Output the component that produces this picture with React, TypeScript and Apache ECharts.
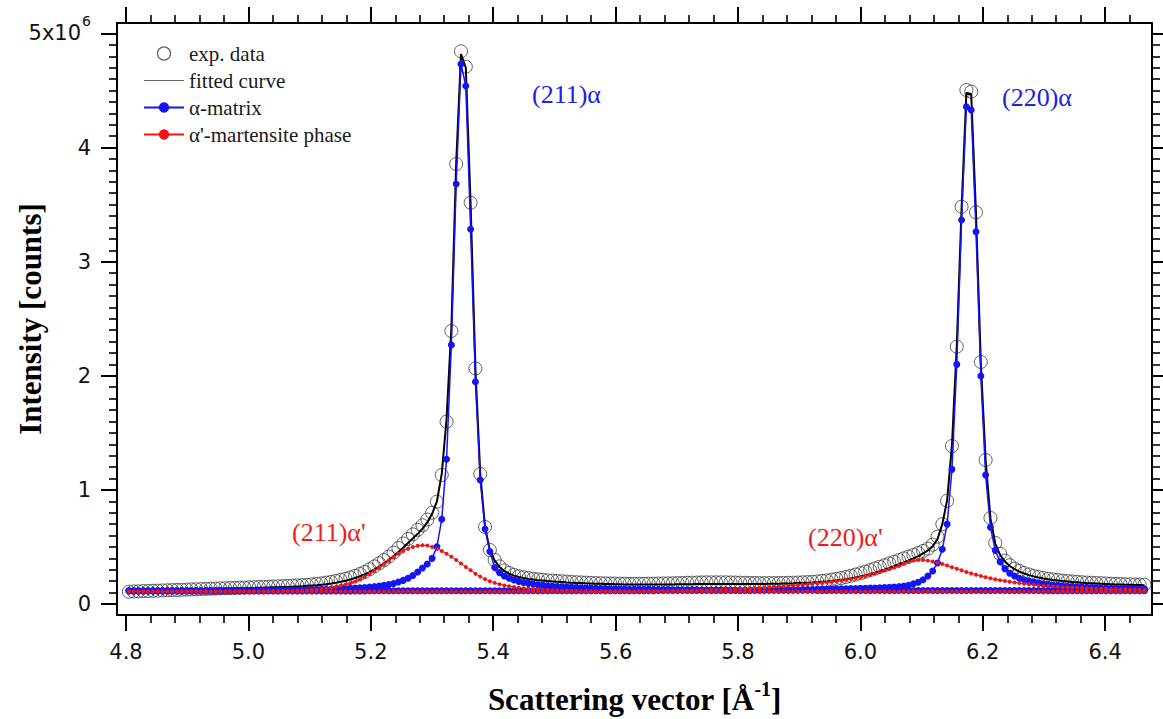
import React, { useEffect, useRef } from "react";
import * as echarts from "echarts";

// sampling grid of the measured points (scattering vector, 1/Å)
const Q0 = 4.8047;
const DQ = 0.007865;

// intensities in units of 10^6 counts, one value per grid point (212 points)
const EXP = [
  0.108,0.110,0.111,0.113,0.114,0.116,0.117,0.119,0.120,0.122,
  0.123,0.125,0.126,0.128,0.129,0.131,0.132,0.134,0.135,0.137,
  0.138,0.140,0.141,0.143,0.144,0.146,0.147,0.149,0.150,0.152,
  0.153,0.155,0.157,0.159,0.161,0.163,0.165,0.168,0.172,0.176,
  0.181,0.187,0.194,0.202,0.211,0.221,0.233,0.247,0.263,0.281,
  0.305,0.330,0.357,0.385,0.415,0.450,0.490,0.530,0.570,0.610,
  0.650,0.690,0.740,0.800,0.897,1.131,1.598,2.393,3.856,4.844,
  4.709,3.517,2.065,1.139,0.675,0.473,0.386,0.330,0.295,0.272,
  0.255,0.243,0.234,0.227,0.221,0.216,0.212,0.208,0.205,0.202,
  0.199,0.196,0.193,0.191,0.189,0.187,0.185,0.183,0.182,0.181,
  0.180,0.179,0.178,0.178,0.177,0.177,0.177,0.177,0.178,0.178,
  0.179,0.180,0.181,0.182,0.183,0.184,0.186,0.187,0.188,0.189,
  0.190,0.190,0.190,0.190,0.190,0.189,0.188,0.187,0.186,0.185,
  0.184,0.183,0.183,0.183,0.183,0.184,0.185,0.186,0.187,0.188,
  0.190,0.192,0.195,0.198,0.202,0.207,0.213,0.220,0.228,0.237,
  0.247,0.258,0.270,0.283,0.297,0.312,0.326,0.340,0.355,0.370,
  0.385,0.400,0.415,0.430,0.447,0.465,0.485,0.520,0.590,0.700,
  0.905,1.385,2.255,3.482,4.505,4.490,3.433,2.121,1.262,0.754,
  0.535,0.440,0.380,0.340,0.310,0.290,0.272,0.258,0.246,0.236,
  0.228,0.221,0.215,0.210,0.205,0.201,0.197,0.194,0.191,0.188,
  0.186,0.184,0.182,0.180,0.178,0.176,0.175,0.173,0.172,0.171,
  0.170,0.169,
];

const FIT = [
  0.115,0.116,0.117,0.118,0.119,0.120,0.121,0.122,0.123,0.124,
  0.125,0.126,0.127,0.128,0.129,0.130,0.131,0.132,0.133,0.134,
  0.135,0.136,0.137,0.138,0.139,0.140,0.141,0.142,0.143,0.145,
  0.146,0.147,0.149,0.150,0.152,0.154,0.156,0.159,0.162,0.165,
  0.169,0.174,0.180,0.187,0.195,0.204,0.215,0.228,0.243,0.260,
  0.280,0.303,0.328,0.355,0.385,0.418,0.455,0.495,0.535,0.575,
  0.615,0.660,0.715,0.790,0.900,1.140,1.620,2.420,3.860,4.820,
  4.700,3.500,2.060,1.140,0.675,0.470,0.380,0.325,0.290,0.266,
  0.249,0.237,0.228,0.220,0.214,0.209,0.205,0.201,0.198,0.195,
  0.192,0.189,0.187,0.185,0.183,0.181,0.180,0.178,0.177,0.176,
  0.175,0.174,0.173,0.172,0.172,0.171,0.171,0.171,0.171,0.171,
  0.171,0.171,0.172,0.172,0.173,0.173,0.174,0.174,0.175,0.175,
  0.176,0.176,0.176,0.176,0.176,0.176,0.176,0.176,0.176,0.176,
  0.176,0.176,0.176,0.177,0.177,0.178,0.179,0.180,0.181,0.183,
  0.184,0.186,0.188,0.191,0.194,0.197,0.201,0.206,0.211,0.217,
  0.224,0.232,0.241,0.251,0.262,0.274,0.287,0.301,0.316,0.332,
  0.348,0.365,0.382,0.400,0.420,0.443,0.470,0.505,0.570,0.700,
  0.910,1.390,2.260,3.470,4.480,4.470,3.420,2.110,1.260,0.750,
  0.530,0.430,0.372,0.333,0.305,0.284,0.267,0.253,0.242,0.232,
  0.224,0.217,0.211,0.206,0.201,0.197,0.193,0.190,0.187,0.184,
  0.182,0.180,0.178,0.176,0.174,0.172,0.171,0.169,0.168,0.167,
  0.166,0.165,
];

// alpha-matrix component, (211) reflection
const BLUE_211 = [
  0.115,0.115,0.115,0.115,0.115,0.115,0.115,0.115,0.115,0.115,
  0.115,0.115,0.116,0.116,0.116,0.116,0.117,0.117,0.117,0.117,
  0.118,0.118,0.118,0.118,0.119,0.119,0.119,0.120,0.120,0.120,
  0.121,0.121,0.122,0.122,0.123,0.123,0.124,0.125,0.126,0.127,
  0.128,0.129,0.130,0.131,0.133,0.135,0.137,0.139,0.142,0.145,
  0.148,0.152,0.157,0.163,0.170,0.180,0.192,0.207,0.225,0.250,
  0.280,0.315,0.350,0.400,0.502,0.742,1.268,2.270,3.681,4.733,
  4.540,3.284,1.948,1.087,0.657,0.460,0.320,0.275,0.245,0.225,
  0.210,0.198,0.189,0.181,0.175,0.169,0.164,0.160,0.156,0.153,
  0.150,0.148,0.146,0.144,0.142,0.140,0.139,0.138,0.136,0.135,
  0.134,0.133,0.132,0.131,0.130,0.130,0.129,0.128,0.128,0.127,
  0.127,0.126,0.126,0.125,0.125,0.125,0.124,0.124,0.124,0.123,
  0.123,0.123,0.122,0.122,0.122,0.122,0.121,0.121,0.121,0.121,
  0.120,0.120,0.120,0.120,0.120,0.120,0.120,0.120,0.120,0.120,
  0.120,0.120,0.120,0.119,0.119,0.119,0.119,0.119,0.119,0.119,
  0.119,0.119,0.119,0.119,0.119,0.119,0.119,0.119,0.119,0.119,
  0.118,0.118,0.118,0.118,0.118,0.118,0.118,0.118,0.118,0.118,
  0.118,0.118,0.118,0.118,0.118,0.118,0.118,0.118,0.118,0.118,
  0.118,0.118,0.118,0.118,0.118,0.118,0.118,0.118,0.118,0.118,
  0.117,0.117,0.117,0.117,0.117,0.117,0.117,0.117,0.117,0.117,
  0.117,0.117,0.117,0.117,0.117,0.117,0.117,0.117,0.117,0.117,
  0.117,0.117,
];

// alpha-matrix component, (220) reflection
const BLUE_220 = [
  0.115,0.115,0.115,0.115,0.115,0.115,0.115,0.115,0.115,0.115,
  0.115,0.115,0.115,0.115,0.115,0.115,0.115,0.115,0.115,0.115,
  0.115,0.115,0.115,0.115,0.115,0.115,0.115,0.115,0.115,0.115,
  0.115,0.115,0.115,0.115,0.115,0.115,0.115,0.115,0.115,0.115,
  0.115,0.115,0.115,0.115,0.115,0.115,0.115,0.115,0.115,0.115,
  0.116,0.116,0.116,0.116,0.116,0.116,0.116,0.116,0.116,0.116,
  0.116,0.116,0.116,0.116,0.116,0.116,0.116,0.116,0.116,0.116,
  0.116,0.116,0.116,0.116,0.116,0.116,0.116,0.116,0.116,0.116,
  0.116,0.116,0.116,0.116,0.116,0.116,0.116,0.116,0.116,0.116,
  0.117,0.117,0.117,0.117,0.117,0.117,0.117,0.117,0.117,0.117,
  0.117,0.117,0.117,0.117,0.117,0.117,0.117,0.117,0.117,0.117,
  0.118,0.118,0.118,0.118,0.118,0.118,0.118,0.118,0.118,0.118,
  0.119,0.119,0.119,0.119,0.119,0.119,0.119,0.119,0.119,0.119,
  0.120,0.121,0.121,0.122,0.122,0.123,0.123,0.124,0.125,0.125,
  0.126,0.127,0.127,0.128,0.129,0.130,0.131,0.132,0.133,0.134,
  0.135,0.136,0.137,0.138,0.140,0.141,0.143,0.145,0.147,0.149,
  0.152,0.157,0.165,0.178,0.190,0.213,0.245,0.290,0.360,0.480,
  0.700,1.180,2.100,3.365,4.358,4.330,3.263,1.998,1.130,0.672,
  0.470,0.370,0.310,0.270,0.245,0.226,0.212,0.201,0.192,0.184,
  0.178,0.172,0.167,0.163,0.159,0.156,0.153,0.150,0.148,0.146,
  0.144,0.142,0.141,0.139,0.138,0.137,0.136,0.135,0.134,0.133,
  0.132,0.131,
];

// alpha'-martensite component, (211) reflection
const RED_211 = [
  0.110,0.110,0.110,0.110,0.110,0.110,0.110,0.110,0.110,0.110,
  0.110,0.110,0.110,0.110,0.110,0.110,0.110,0.110,0.110,0.110,
  0.110,0.110,0.110,0.110,0.110,0.110,0.110,0.110,0.110,0.111,
  0.112,0.113,0.114,0.115,0.116,0.117,0.119,0.121,0.124,0.127,
  0.131,0.136,0.142,0.150,0.160,0.170,0.182,0.196,0.215,0.240,
  0.265,0.292,0.322,0.352,0.382,0.412,0.440,0.465,0.485,0.500,
  0.510,0.515,0.512,0.500,0.485,0.465,0.440,0.415,0.386,0.355,
  0.325,0.295,0.265,0.240,0.218,0.200,0.185,0.173,0.163,0.155,
  0.149,0.143,0.138,0.134,0.130,0.127,0.124,0.122,0.120,0.118,
  0.117,0.116,0.115,0.114,0.113,0.112,0.111,0.110,0.110,0.110,
  0.110,0.110,0.110,0.110,0.110,0.110,0.110,0.110,0.110,0.110,
  0.110,0.110,0.110,0.110,0.110,0.110,0.110,0.110,0.110,0.110,
  0.110,0.110,0.110,0.110,0.110,0.110,0.110,0.110,0.110,0.110,
  0.110,0.110,0.110,0.110,0.110,0.110,0.110,0.110,0.110,0.110,
  0.110,0.110,0.110,0.110,0.110,0.110,0.110,0.110,0.110,0.110,
  0.110,0.110,0.110,0.110,0.110,0.110,0.110,0.110,0.110,0.110,
  0.110,0.110,0.110,0.110,0.110,0.110,0.110,0.110,0.110,0.110,
  0.110,0.110,0.110,0.110,0.110,0.110,0.110,0.110,0.110,0.110,
  0.110,0.110,0.110,0.110,0.110,0.110,0.110,0.110,0.110,0.110,
  0.110,0.110,0.110,0.110,0.110,0.110,0.110,0.110,0.110,0.110,
  0.110,0.110,0.110,0.110,0.110,0.110,0.110,0.110,0.110,0.110,
  0.110,0.110,
];

// alpha'-martensite component, (220) reflection
const RED_220 = [
  0.110,0.110,0.110,0.110,0.110,0.110,0.110,0.110,0.110,0.110,
  0.110,0.110,0.110,0.110,0.110,0.110,0.110,0.110,0.110,0.110,
  0.110,0.110,0.110,0.110,0.110,0.110,0.110,0.110,0.110,0.110,
  0.110,0.110,0.110,0.110,0.110,0.110,0.110,0.110,0.110,0.110,
  0.110,0.110,0.110,0.110,0.110,0.110,0.110,0.110,0.110,0.110,
  0.110,0.110,0.110,0.110,0.110,0.110,0.110,0.110,0.110,0.110,
  0.110,0.110,0.110,0.110,0.110,0.110,0.110,0.110,0.110,0.110,
  0.110,0.110,0.110,0.110,0.110,0.110,0.110,0.110,0.110,0.110,
  0.110,0.110,0.110,0.110,0.110,0.110,0.110,0.110,0.110,0.110,
  0.110,0.110,0.110,0.110,0.110,0.110,0.110,0.110,0.110,0.110,
  0.110,0.110,0.110,0.110,0.110,0.110,0.111,0.111,0.112,0.112,
  0.113,0.113,0.114,0.114,0.115,0.116,0.117,0.118,0.119,0.120,
  0.121,0.122,0.123,0.125,0.126,0.128,0.130,0.132,0.134,0.136,
  0.138,0.141,0.144,0.147,0.150,0.153,0.156,0.159,0.163,0.166,
  0.170,0.173,0.177,0.181,0.185,0.190,0.195,0.200,0.206,0.212,
  0.219,0.227,0.236,0.246,0.257,0.268,0.280,0.293,0.306,0.320,
  0.334,0.352,0.368,0.380,0.386,0.385,0.380,0.372,0.362,0.350,
  0.337,0.323,0.309,0.295,0.281,0.268,0.256,0.245,0.235,0.226,
  0.217,0.209,0.202,0.195,0.189,0.183,0.178,0.173,0.168,0.164,
  0.160,0.157,0.154,0.151,0.148,0.146,0.144,0.142,0.140,0.138,
  0.136,0.134,0.133,0.131,0.130,0.129,0.128,0.127,0.126,0.125,
  0.124,0.123,
];

// axis tick values
const X_MAJOR = [4.8, 5.0, 5.2, 5.4, 5.6, 5.8, 6.0, 6.2, 6.4];
const Y_MAJOR = [0, 1, 2, 3, 4, 5];

const X_MIN = 4.7853;
const X_MAX = 6.4765;
const Y_MIN = -0.0964;
const Y_MAX = 5.092;

const toPairs = (arr: number[]) =>
  arr.map((v, i) => [Number((Q0 + i * DQ).toFixed(5)), v]);

const stepTicks = (from: number, to: number, step: number) => {
  const out: number[] = [];
  const n = Math.round((to - from) / step);
  for (let k = 0; k <= n; k++) out.push(Number((from + k * step).toFixed(4)));
  return out;
};

const X_MINOR = stepTicks(4.8, 6.44, 0.04);
const Y_MINOR = stepTicks(0, 5, 0.1);

const BLUE = "#1414f5";
const RED = "#f01414";
const SANS = "'DejaVu Sans', Verdana, sans-serif";
const SERIF = "'Liberation Serif', 'Times New Roman', serif";

export default function App() {
  const ref = useRef<HTMLDivElement>(null);

  useEffect(() => {
    if (!ref.current) return;
    const chart = echarts.init(ref.current, undefined, { renderer: "svg" });

    const gridRect = { left: 117, top: 23, width: 1035, height: 592 };
    const grids = [0, 1, 2, 3].map(() => ({ ...gridRect, containLabel: false, outerBoundsMode: "none" }));

    const axisLineOn = { show: true, onZero: false, lineStyle: { color: "#000", width: 2 } };
    const axisLineOff = { show: false, onZero: false };
    const majorTick = (vals: number[]) => ({
      show: true, inside: false, length: 16, customValues: vals,
      lineStyle: { color: "#000", width: 2 },
    });
    const minorTick = (vals: number[]) => ({
      show: true, inside: false, length: 8, customValues: vals,
      lineStyle: { color: "#000", width: 1.6 },
    });
    const noLabel = { show: false };

    const xAxes: any[] = [
      {
        gridIndex: 0, type: "value", position: "bottom", min: X_MIN, max: X_MAX,
        axisLine: axisLineOn, axisTick: majorTick(X_MAJOR), splitLine: { show: false },
        axisLabel: {
          show: true, customValues: X_MAJOR, margin: 26,
          formatter: (v: number) => v.toFixed(1),
          fontSize: 21, fontFamily: SANS, color: "#111",
        },
        name: "{t|Scattering vector [Å}{s|-1}{t|]}",
        nameLocation: "middle", nameGap: 64, nameMoveOverlap: false,
        nameTextStyle: {
          rich: {
            t: { fontSize: 31, fontWeight: "bold", fontFamily: SERIF, color: "#000" },
            s: { fontSize: 20, fontWeight: "bold", fontFamily: SERIF, color: "#000", padding: [0, 0, 20, 0] },
          },
        },
      },
      {
        gridIndex: 1, type: "value", position: "bottom", min: X_MIN, max: X_MAX,
        axisLine: axisLineOff, axisTick: minorTick(X_MINOR), axisLabel: noLabel, splitLine: { show: false },
      },
      {
        gridIndex: 2, type: "value", position: "top", min: X_MIN, max: X_MAX,
        axisLine: axisLineOn, axisTick: majorTick(X_MAJOR), axisLabel: noLabel, splitLine: { show: false },
      },
      {
        gridIndex: 3, type: "value", position: "top", min: X_MIN, max: X_MAX,
        axisLine: axisLineOff, axisTick: minorTick(X_MINOR), axisLabel: noLabel, splitLine: { show: false },
      },
    ];

    const yAxes: any[] = [
      {
        gridIndex: 0, type: "value", position: "left", min: Y_MIN, max: Y_MAX,
        axisLine: axisLineOn, axisTick: majorTick(Y_MAJOR), splitLine: { show: false },
        axisLabel: {
          show: true, customValues: Y_MAJOR, margin: 26,
          formatter: (v: number) => (Math.round(v) === 5 ? "{b|5x10}{s|6}" : "{b|" + Math.round(v) + "}"),
          rich: {
            b: { fontSize: 21, fontFamily: SANS, color: "#111" },
            s: { fontSize: 14, fontFamily: SANS, color: "#111", padding: [0, 0, 24, 1] },
          },
        },
        name: "Intensity [counts]",
        nameLocation: "middle", nameGap: 71, nameRotate: 90, nameMoveOverlap: false,
        nameTextStyle: { fontSize: 31, fontWeight: "bold", fontFamily: SERIF, color: "#000" },
      },
      {
        gridIndex: 1, type: "value", position: "left", min: Y_MIN, max: Y_MAX,
        axisLine: axisLineOff, axisTick: minorTick(Y_MINOR), axisLabel: noLabel, splitLine: { show: false },
      },
      {
        gridIndex: 2, type: "value", position: "right", min: Y_MIN, max: Y_MAX,
        axisLine: axisLineOn, axisTick: majorTick(Y_MAJOR), axisLabel: noLabel, splitLine: { show: false },
      },
      {
        gridIndex: 3, type: "value", position: "right", min: Y_MIN, max: Y_MAX,
        axisLine: axisLineOff, axisTick: minorTick(Y_MINOR), axisLabel: noLabel, splitLine: { show: false },
      },
    ];

    const lineComp = (name: string, data: number[], color: string, size: number, width: number) => ({
      name, type: "line", data: toPairs(data), xAxisIndex: 0, yAxisIndex: 0,
      symbol: "circle", symbolSize: size, showSymbol: true,
      lineStyle: { color, width }, itemStyle: { color },
      emphasis: { disabled: true },
    });

    chart.setOption({
      animation: false,
      backgroundColor: "#fff",
      grid: grids,
      xAxis: xAxes,
      yAxis: yAxes,
      legend: {
        show: true, orient: "vertical", left: 143, top: 43, padding: 0,
        itemWidth: 40, itemHeight: 13, itemGap: 6,
        textStyle: { fontFamily: SERIF, fontSize: 21, color: "#1a1a1a" },
        data: [
          { name: "exp. data", icon: "circle", itemStyle: { color: "rgba(0,0,0,0)", borderColor: "#333", borderWidth: 1.2 } },
          { name: "fitted curve", icon: "path://M0,5 L40,5 L40,6 L0,6 Z", itemStyle: { color: "#666" } },
          { name: "α-matrix" },
          { name: "α'-martensite phase" },
        ],
      },
      series: [
        {
          name: "exp. data", type: "scatter", data: toPairs(EXP), xAxisIndex: 0, yAxisIndex: 0,
          symbol: "circle", symbolSize: 13,
          itemStyle: { color: "rgba(0,0,0,0)", borderColor: "#3a3a3a", borderWidth: 1 },
          emphasis: { disabled: true },
        },
        {
          name: "fitted curve", type: "line", data: toPairs(FIT), xAxisIndex: 0, yAxisIndex: 0,
          symbol: "none", showSymbol: false,
          lineStyle: { color: "#000", width: 2 }, itemStyle: { color: "#000" },
          emphasis: { disabled: true },
        },
        lineComp("α-matrix", BLUE_211, BLUE, 7, 1.5),
        lineComp("α-matrix", BLUE_220, BLUE, 7, 1.5),
        lineComp("α'-martensite phase", RED_211, RED, 4, 1),
        lineComp("α'-martensite phase", RED_220, RED, 4, 1),
      ],
      graphic: [
        { type: "text", x: 532, y: 94, style: { text: "(211)α", fill: "#2020e6", font: "26px " + SERIF, textVerticalAlign: "middle" } },
        { type: "text", x: 1002, y: 97, style: { text: "(220)α", fill: "#2020e6", font: "26px " + SERIF, textVerticalAlign: "middle" } },
        { type: "text", x: 292, y: 532, style: { text: "(211)α'", fill: "#ee1c1c", font: "26px " + SERIF, textVerticalAlign: "middle" } },
        { type: "text", x: 808, y: 537, style: { text: "(220)α'", fill: "#ee1c1c", font: "26px " + SERIF, textVerticalAlign: "middle" } },
      ],
    });

    return () => chart.dispose();
  }, []);

  return (
    <div
      ref={ref}
      style={{ position: "fixed", left: 0, top: 0, width: 1163, height: 719, background: "#fff" }}
    />
  );
}
